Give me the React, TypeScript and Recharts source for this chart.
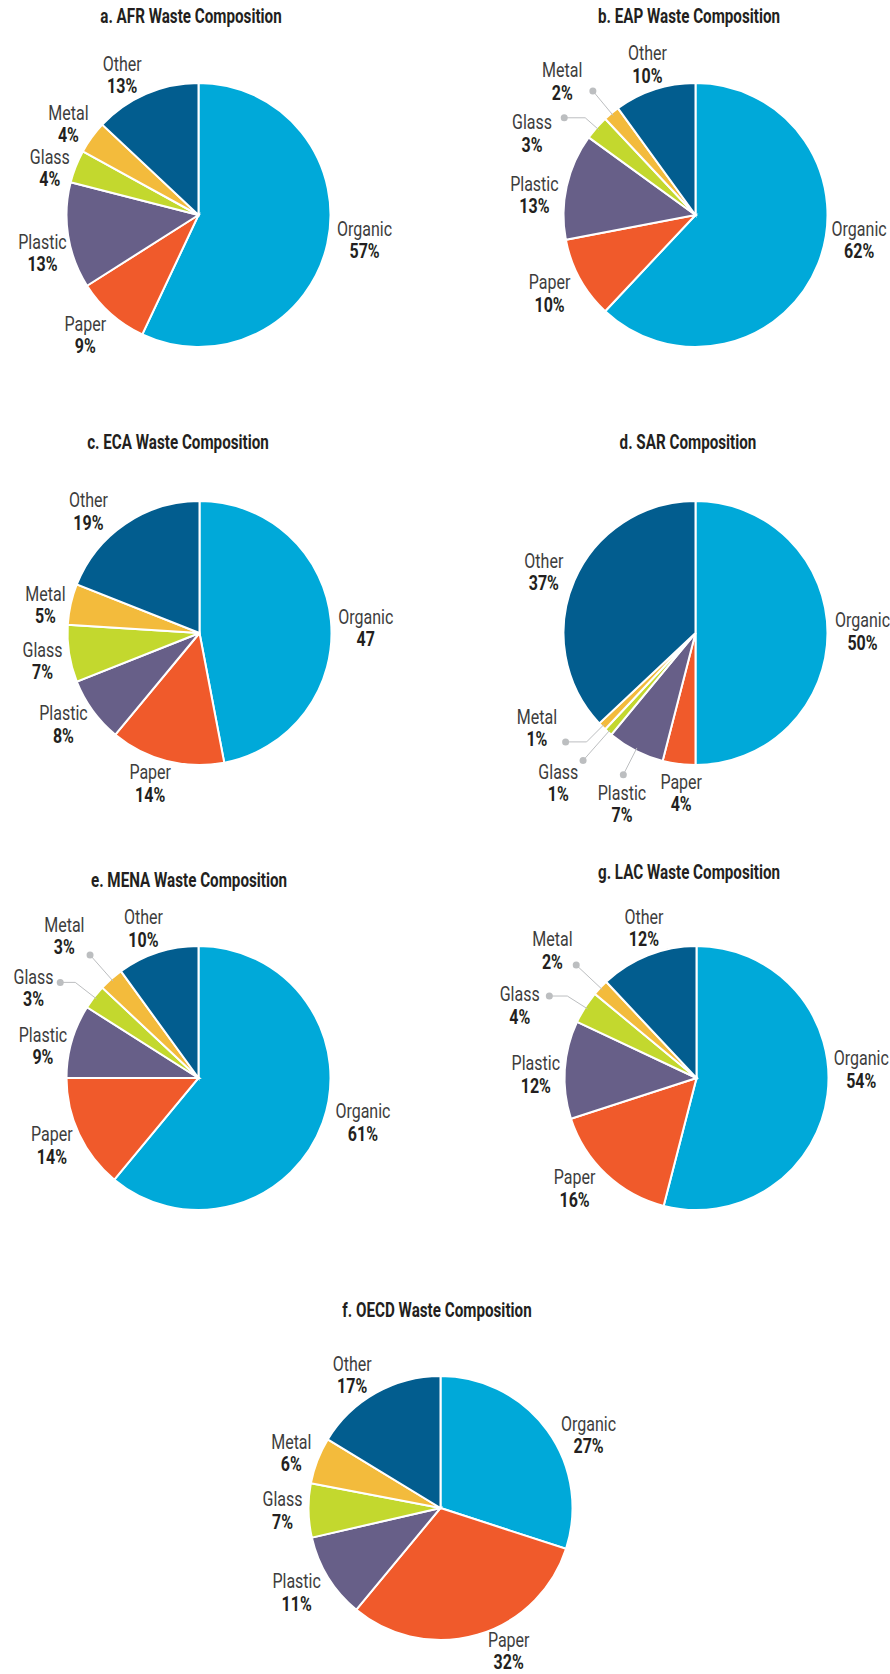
import { PieChart, Pie, Cell } from 'recharts'

const FONT = "Roboto, 'Liberation Sans', sans-serif"
const SQUEEZE = 0.8 // the source uses a condensed face; none is installed

const categories = ['Organic', 'Paper', 'Plastic', 'Glass', 'Metal', 'Other']
const colors = ['#00a9d9', '#f05a2b', '#675f88', '#c3d82e', '#f3bb3c', '#025d8f']

const afrValues = [57, 9, 13, 4, 4, 13]
const eapValues = [62, 10, 13, 3, 2, 10]
const ecaValues = [47, 14, 8, 7, 5, 19]
const ecaLabels = ['47', '14%', '8%', '7%', '5%', '19%']
const sarValues = [50, 4, 7, 1, 1, 37]
const menaValues = [61, 14, 9, 3, 3, 10]
const lacValues = [54, 16, 12, 4, 2, 12]
// the OECD slices are drawn bigger/smaller than the printed shares in the source
const oecdValues = [30, 31, 10.4, 6.6, 5.7, 16.3]
const oecdLabels = ['27%', '32%', '11%', '7%', '6%', '17%']

const pct = (vals: number[]) => vals.map((v) => `${v}%`)

type Panel = {
  title: string
  values: number[]
  labels: string[]
  x: number // pie centre on the page
  y: number
  titleX: number
  titleY: number
  nudge: number[][]
  leaders?: Record<number, number[]> // [radial length past edge, horizontal run]
}

const panels: Panel[] = [
  {
    title: 'a. AFR Waste Composition', values: afrValues, labels: pct(afrValues),
    x: 193, y: 210, titleX: 191, titleY: 16,
    nudge: [[8, -11], [-6, -2], [4, 12], [2, 12], [1, 4], [-12, 8]],
  },
  {
    title: 'b. EAP Waste Composition', values: eapValues, labels: pct(eapValues),
    x: 690, y: 210, titleX: 689, titleY: 16,
    nudge: [[13, -35], [-4, 0], [-3, 15], [-42, 25], [-30, -9], [2, 3]],
    leaders: { 3: [15, -21], 4: [29, 0] },
  },
  {
    title: 'c. ECA Waste Composition', values: ecaValues, labels: ecaLabels,
    x: 194, y: 628, titleX: 178, titleY: 442,
    nudge: [[5, 10], [-9, -7], [-5, -4], [3, 2], [4, 7], [-20, 12]],
  },
  {
    title: 'd. SAR Composition', values: sarValues, labels: pct(sarValues),
    x: 690, y: 628, titleX: 688, titleY: 442,
    nudge: [[5, -2], [6, -1], [0, 26], [-30, 28], [-44, -20], [-3, 3]],
    leaders: { 2: [27, 0], 3: [38, 0], 4: [22, -21] },
  },
  {
    title: 'e. MENA Waste Composition', values: menaValues, labels: pct(menaValues),
    x: 193, y: 1073, titleX: 189, titleY: 880,
    nudge: [[12, -11], [0, -2], [0, 13], [-37, 9], [-27, -21], [-5, 4]],
    leaders: { 3: [24, -15], 4: [32, 0] },
  },
  {
    title: 'g. LAC Waste Composition', values: lacValues, labels: pct(lacValues),
    x: 691, y: 1073, titleX: 689, titleY: 872,
    nudge: [[4, -29], [-11, -8], [1, 6], [-40, 14], [-26, -17], [7, 0]],
    leaders: { 3: [21, -18], 4: [33, 0] },
  },
  {
    title: 'f. OECD Waste Composition', values: oecdValues, labels: oecdLabels,
    x: 435, y: 1503, titleX: 437, titleY: 1310,
    nudge: [[17, 22], [23, -13], [-6, -1], [4, -1], [2, 3], [-9, 8]],
  },
]

const W = 445
const H = 400
const RADIAN = Math.PI / 180

const polar = (cx: number, cy: number, r: number, angle: number) => [
  cx + r * Math.cos(-angle * RADIAN),
  cy + r * Math.sin(-angle * RADIAN),
]

function makeLabel(panel: Panel) {
  return (props: any) => {
    const { cx, cy, midAngle, outerRadius, index } = props
    const [px, py] = polar(cx, cy, outerRadius + 30, midAngle)
    const x = px + panel.nudge[index][0]
    const y = py + panel.nudge[index][1]
    const leader = panel.leaders ? panel.leaders[index] : undefined
    let line = null
    if (leader) {
      const [sx, sy] = polar(cx, cy, outerRadius - 3, midAngle)
      const [ex, ey] = polar(cx, cy, outerRadius + leader[0], midAngle)
      line = (
        <g>
          <polyline
            points={`${sx},${sy} ${ex},${ey} ${ex + leader[1]},${ey}`}
            fill="none"
            stroke="#bcbec0"
            strokeWidth={1}
          />
          <circle cx={ex + leader[1]} cy={ey} r={3.5} fill="#bcbec0" />
        </g>
      )
    }
    return (
      <g key={`lbl-${index}`}>
        {line}
        <g transform={`translate(${x},${y}) scale(${SQUEEZE},1)`}>
          <text x={0} y={-11} textAnchor="middle" dominantBaseline="central"
            fontFamily={FONT} fontSize={20} fill="#3d3d3d">
            {categories[index]}
          </text>
          <text x={0} y={11.5} textAnchor="middle" dominantBaseline="central"
            fontFamily={FONT} fontSize={20} fontWeight={700} fill="#231f20">
            {panel.labels[index]}
          </text>
        </g>
      </g>
    )
  }
}

function WastePie({ panel }: { panel: Panel }) {
  const data = categories.map((name, i) => ({ name, value: panel.values[i] }))
  return (
    <div style={{ position: 'absolute', left: panel.x - W / 2, top: panel.y - H / 2, width: W, height: H }}>
      <PieChart width={W} height={H}>
        <Pie
          data={data}
          dataKey="value"
          nameKey="name"
          cx={W / 2}
          cy={H / 2}
          outerRadius={132}
          startAngle={90}
          endAngle={-270}
          stroke="#fff"
          strokeWidth={2}
          labelLine={false}
          label={makeLabel(panel)}
          isAnimationActive={false}
        >
          {data.map((d, i) => (
            <Cell key={d.name} fill={colors[i]} />
          ))}
        </Pie>
      </PieChart>
    </div>
  )
}

export default function App() {
  return (
    <div style={{ position: 'absolute', left: 0, top: 0, width: 890, height: 1674, overflow: 'hidden', background: '#fff' }}>
      {panels.map((p) => (
        <WastePie key={p.title} panel={p} />
      ))}
      {panels.map((p) => (
        <div
          key={'t' + p.title}
          style={{
            position: 'absolute',
            left: p.titleX - 200,
            top: p.titleY - 12,
            width: 400,
            height: 24,
            lineHeight: '24px',
            textAlign: 'center',
            fontFamily: FONT,
            fontWeight: 700,
            fontSize: 20,
            color: '#231f20',
            transform: 'scaleX(0.76)',
            whiteSpace: 'nowrap',
          }}
        >
          {p.title}
        </div>
      ))}
    </div>
  )
}
